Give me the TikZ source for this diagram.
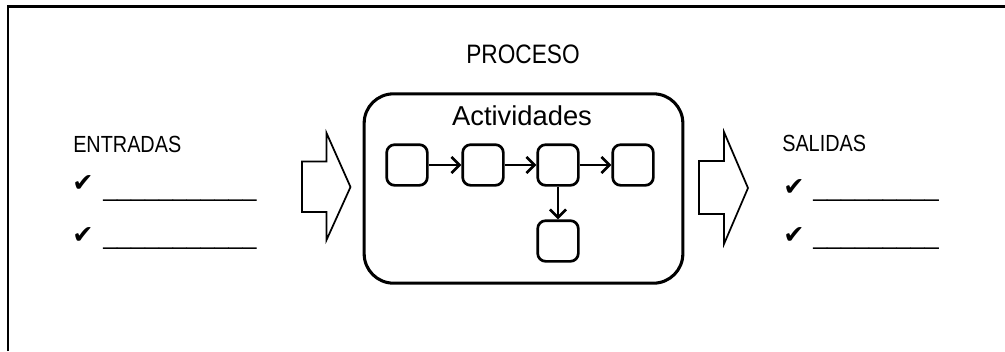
\documentclass[tikz,border=0pt]{standalone}
\usepackage{fontspec}
\setmainfont{Liberation Sans}
\newfontfamily\capsfont{Liberation Sans}[FakeStretch=0.85]
\newfontfamily\tickfont{DejaVu Sans}
\usetikzlibrary{arrows.meta}

\begin{document}
\begin{tikzpicture}[x=0.75pt,y=-0.75pt,
    heading/.style={anchor=base west,inner sep=0pt,font=\capsfont\fontsize{17.5pt}{20pt}\selectfont},
    checkmark/.style={anchor=base west,inner sep=0pt,font=\tickfont\fontsize{19pt}{21pt}\selectfont},
    blankline/.style={anchor=base west,inner sep=0pt,font=\fontsize{18.8pt}{20pt}\selectfont},
    actbox/.style={draw,line width=2pt,rounded corners=6pt,minimum size=30.5pt,inner sep=0pt},
    flow/.style={line width=2pt,-{Straight Barb[length=6pt,width=12pt]}},
    bigarrow/.style={line width=1.3pt,line join=miter}]
  \useasboundingbox (0,0) rectangle (1005,351);
  % marco
  \draw[line width=1.6pt] (8,351) -- (8,6.5) -- (1005,6.5);
  % entradas
  \node[heading] (entradas) at (73,152) {ENTRADAS};
  \node[checkmark] (e1) at (72,191) {✔};
  \node[blankline] (l1) at (103,196) {\_\_\_\_\_\_\_\_\_\_\_};
  \node[checkmark] (e2) at (72,243) {✔};
  \node[blankline] (l2) at (103,244) {\_\_\_\_\_\_\_\_\_\_\_};
  \draw[bigarrow] (302,161.5) -- (326.5,161.5) -- (326.5,133) -- (350.5,187)
    -- (326.5,240) -- (326.5,212) -- (302,212) -- cycle;
  % proceso
  \node[font=\capsfont\fontsize{20pt}{24pt}\selectfont] (proceso) at (523,54) {PROCESO};
  \node[draw,line width=2.3pt,rounded corners=22pt,minimum width=239pt,
    minimum height=142pt] (caja) at (523.5,188.5) {};
  \node[anchor=base,inner sep=0pt,font=\fontsize{20.5pt}{24pt}\selectfont] (act) at (522,125) {Actividades};
  \node[actbox] (a1) at (407,165) {};
  \node[actbox] (a2) at (483,165) {};
  \node[actbox] (a3) at (558,165) {};
  \node[actbox] (a4) at (633,165) {};
  \node[actbox] (a5) at (558,241) {};
  \draw[flow] (a1) -- (a2);
  \draw[flow] (a2) -- (a3);
  \draw[flow] (a3) -- (a4);
  \draw[flow] (a3) -- (a5);
  % salidas
  \draw[bigarrow] (699,161) -- (724,161) -- (724,132) -- (748,188)
    -- (724,244) -- (724,214) -- (699,214) -- cycle;
  \node[heading] (salidas) at (782,151) {SALIDAS};
  \node[checkmark] (s1) at (783,195) {✔};
  \node[blankline] (r1) at (813,196) {\_\_\_\_\_\_\_\_\_};
  \node[checkmark] (s2) at (783,243) {✔};
  \node[blankline] (r2) at (813,244) {\_\_\_\_\_\_\_\_\_};
\end{tikzpicture}
\end{document}
